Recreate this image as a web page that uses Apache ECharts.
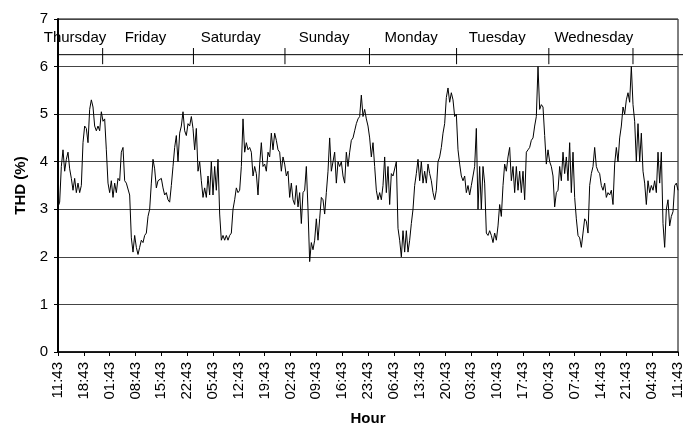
<!DOCTYPE html>
<html>
<head>
<meta charset="utf-8">
<script src="https://cdn.jsdelivr.net/npm/echarts@6/dist/echarts.min.js"></script>
<style>
html,body{margin:0;padding:0;background:#fff;}
#chart{width:692px;height:424px;}
</style>
</head>
<body>
<div id="chart"></div>
<script>
// ---- data ----
var totalHours = 168;
var xTickLabels = ["11:43","18:43","01:43","08:43","15:43","22:43","05:43","12:43","19:43","02:43","09:43","16:43","23:43","06:43","13:43","20:43","03:43","10:43","17:43","00:43","07:43","14:43","21:43","04:43","11:43"];
var dayLabels = ["Thursday","Friday","Saturday","Sunday","Monday","Tuesday","Wednesday"];
var dayLabelHours = [4.6, 23.7, 46.8, 72.1, 95.7, 119.0, 145.2];
var dayBoundaryHours = [12.1, 36.7, 61.5, 84.4, 108.0, 133.0, 155.8];

// THD (%) samples, evenly spaced across the week
var thdPart1 = [3.05,3.15,3.9,4.25,3.8,4.05,4.2,3.85,3.65,3.4,3.65,3.35,3.55,3.35,3.5,4.4,4.75,4.7,4.4,5.1,
5.3,5.15,4.75,4.65,4.75,4.65,5.05,4.85,4.9,4.25,3.55,3.35,3.6,3.25,3.55,3.35,3.65,3.6,4.2,4.3,
3.6,3.55,3.55,3.3,2.4,2.1,2.45,2.2,2.05,2.2,2.35,2.3,2.45,2.5,2.85,3.0,3.55,4.05,3.85,3.45,
3.6,3.6,3.65,3.45,3.3,3.35,3.2,3.15,3.5,3.9,4.3,4.55,4.0,4.6,4.75,5.05,4.65,4.55,4.8,4.75,
4.95,4.7,4.25,4.7,3.8,4.0,3.6,3.25,3.45,3.25,3.7,3.3,4.0,3.3,3.9,3.4,4.05,2.9,2.35,2.45,
2.35,2.45,2.35,2.45,2.5,3.0,3.2,3.45,3.35,3.4];
var thdPart2 = [3.9,4.9,4.2,4.4,4.25,4.3,4.2,3.7,3.9,3.75,3.3,3.95,4.4,3.9,3.95,3.8,4.2,4.1,4.6,4.25,
4.6,4.45,4.25,4.2,3.8,4.1,3.95,3.7,3.8,3.25,3.55,3.2,3.1,3.5,3.05,3.35,2.7,3.35,3.4,3.9,
3.0,1.9,2.3,2.15,2.35,2.8,2.35,2.8,3.25,3.2,2.9,3.35,3.8,4.5,3.8,4.0,4.2,3.55,4.0,3.9,
4.0,3.7,3.55,4.2,3.9,4.2,4.45,4.5,4.65,4.8,4.9,4.95,5.4,4.95,5.1,4.9,4.75,4.5,4.1,4.4,
3.9,3.4,3.2,3.35,3.2,3.5,4.1,3.35,3.9,3.1,3.75,3.7,3.7,4.0,2.6,2.35,2.0,2.55,2.1,2.55,
2.1,2.35,2.7,3.0,3.5,3.75,4.05,3.6,4.0,3.55,3.8,3.55,3.95,3.75,3.6,3.35,3.2,3.4,4.0,4.1,
4.3,4.6,4.8,5.35,5.55,5.25,5.45,5.3,4.95,5.0,4.25,3.95,3.7,3.6,3.7,3.35,3.5];
var thdPart3 = [3.3,3.5,3.7,3.9,4.7,3.0,3.9,3.0,3.9,3.55,2.5,2.45,2.55,2.45,2.3,2.5,2.35,2.65,3.1,2.85,
3.5,3.95,3.8,4.1,4.3,3.6,3.9,3.35,3.9,3.4,3.8,3.35,3.8,3.2,4.2,4.25,4.3,4.45,4.5,4.75,
4.95,6.0,5.1,5.2,5.15,4.55,3.95,4.25,4.0,3.9,3.7,3.05,3.35,3.4,3.9,3.6,4.2,3.75,4.1,3.6,
4.4,3.35,4.2,3.25,2.8,2.45,2.4,2.2,2.5,2.8,2.75,2.5,3.5,3.75,3.9,4.3,3.9,3.8,3.75,3.5,
3.4,3.55,3.25,3.35,3.3,3.4,3.1,3.95,4.3,4.0,4.5,4.75,5.15,5.0,5.3,5.45,5.25,6.0,5.2,4.85,
4.0,4.8,4.0,4.6,3.8,3.55,3.1,3.6,3.35,3.5,3.4,3.6,3.35,4.2,3.55,4.2,2.7,2.2,3.0,3.2,
2.65,2.85,2.95,3.5,3.55,3.4];
var thd = thdPart1.concat(thdPart2, thdPart3);

// ---- chart ----
var step = totalHours / (thd.length - 1);
var seriesData = thd.map(function (v, i) { return [i * step, v]; });

var FONT = 'Liberation Sans, Arial, sans-serif';
var chart = echarts.init(document.getElementById('chart'), null, {renderer: 'canvas'});
chart.setOption({
  animation: false,
  backgroundColor: '#fff',
  grid: {left: 58, right: 14, top: 19, bottom: 72, containLabel: false, outerBoundsMode: 'none',
         show: true, borderColor: '#000', borderWidth: 1, backgroundColor: 'transparent'},
  xAxis: {
    type: 'value', min: 0, max: totalHours, interval: 7,
    name: 'Hour', nameLocation: 'middle', nameGap: 59,
    nameTextStyle: {fontFamily: FONT, fontSize: 15, fontWeight: 'bold', color: '#000'},
    axisLine: {lineStyle: {color: '#000', width: 1.5}},
    axisTick: {show: true, length: 4, lineStyle: {color: '#000'}},
    splitLine: {show: false},
    axisLabel: {
      rotate: 90, margin: 10, color: '#000', fontFamily: FONT, fontSize: 15,
      formatter: function (v) { return xTickLabels[Math.round(v / 7)]; }
    }
  },
  yAxis: {
    type: 'value', min: 0, max: 7, interval: 1,
    name: 'THD (%)', nameLocation: 'middle', nameGap: 30, nameRotate: 90,
    nameTextStyle: {fontFamily: FONT, fontSize: 15, fontWeight: 'bold', color: '#000'},
    axisLine: {show: true, lineStyle: {color: '#000', width: 2}},
    axisTick: {show: true, length: 4, lineStyle: {color: '#000'}},
    splitLine: {show: true, lineStyle: {color: '#444', width: 1}},
    axisLabel: {margin: 10, color: '#000', fontFamily: FONT, fontSize: 15}
  },
  series: [{
    type: 'line', data: seriesData, showSymbol: false, symbol: 'none',
    lineStyle: {color: '#000', width: 1}, z: 3
  }]
});

// day annotation row drawn from the axis scale
function px(h, v) { return chart.convertToPixel({gridIndex: 0}, [h, v]); }
var lineY = px(0, 6.25)[1];
var tickTop = px(0, 6.39)[1];
var tickBot = px(0, 6.05)[1];
var labelY = px(0, 6.6)[1];
var leftX = px(0, 0)[0];
var rightX = px(totalHours, 0)[0] + 5;
var g = [{type: 'line', shape: {x1: leftX, y1: lineY, x2: rightX, y2: lineY}, style: {stroke: '#000', lineWidth: 1}, z: 10}];
dayBoundaryHours.forEach(function (h) {
  var x = px(h, 0)[0];
  g.push({type: 'line', shape: {x1: x, y1: tickTop, x2: x, y2: tickBot}, style: {stroke: '#000', lineWidth: 1}, z: 10});
});
dayLabels.forEach(function (d, i) {
  var x = px(dayLabelHours[i], 0)[0];
  g.push({type: 'text', x: x, y: labelY, style: {text: d, fill: '#000', font: '15px ' + FONT, textAlign: 'center', textVerticalAlign: 'middle'}, z: 10});
});
chart.setOption({graphic: g});
</script>
</body>
</html>
